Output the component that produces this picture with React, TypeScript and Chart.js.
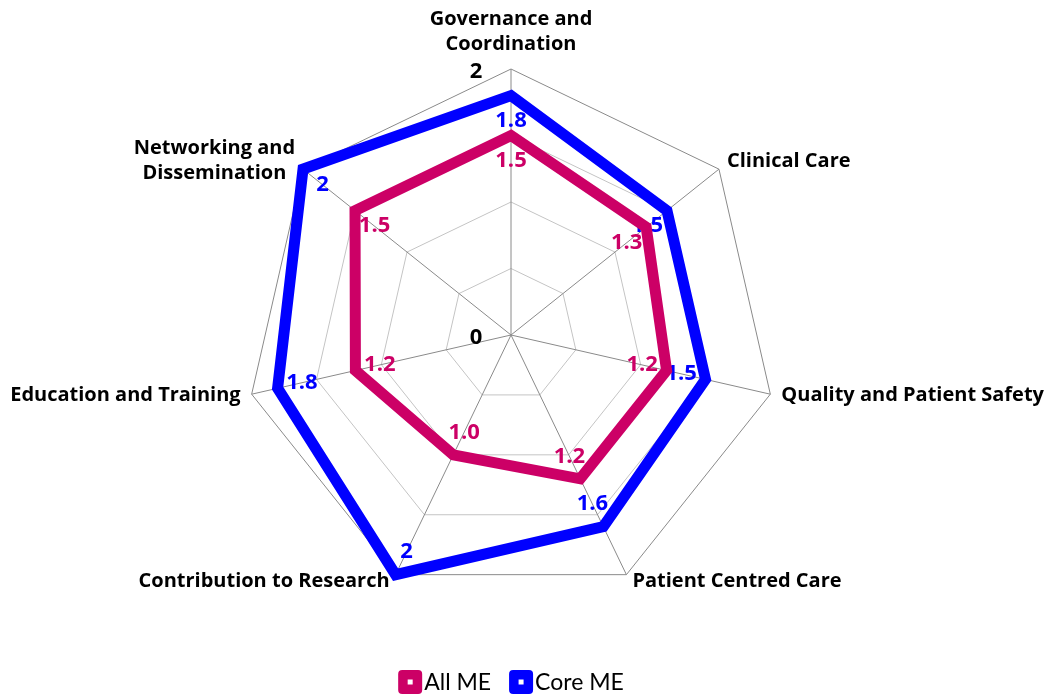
import React, { useEffect, useRef } from 'react';
import { Chart, registerables } from 'chart.js';

Chart.register(...registerables);

const categories: string[][] = [
  ['Governance and', 'Coordination'],
  ['Clinical Care'],
  ['Quality and Patient Safety'],
  ['Patient Centred Care'],
  ['Contribution to Research'],
  ['Education and Training'],
  ['Networking and', 'Dissemination'],
];
const allME = [1.5, 1.3, 1.2, 1.2, 1.0, 1.2, 1.5];
const coreME = [1.8, 1.5, 1.5, 1.6, 2, 1.8, 2];
const allMELabels = ['1.5', '1.3', '1.2', '1.2', '1.0', '1.2', '1.5'];
const coreMELabels = ['1.8', '1.5', '1.5', '1.6', '2', '1.8', '2'];
const tickLabels = [0, 2];
const seriesNames = ['All ME', 'Core ME'];
const seriesColors = ['#CC0066', '#0000FF'];

const FONT = '"Open Sans", Lato, sans-serif';
const LEGEND_FONT = 'Lato, "Open Sans", sans-serif';

const labelPlugin = {
  id: 'customLabels',
  beforeDatasetsDraw(chart: any) {
    const ctx = chart.ctx;
    const scale = chart.scales.r;
    ctx.save();
    // tick labels
    ctx.fillStyle = '#000';
    ctx.font = `bold 22px ${FONT}`;
    ctx.textAlign = 'center';
    ctx.textBaseline = 'middle';
    tickLabels.forEach((v) => {
      const d = scale.getDistanceFromCenterForValue(v);
      ctx.fillText(String(v), scale.xCenter - 35, scale.yCenter - d + 3);
    });
    // data labels
    const labelSets = [allMELabels, coreMELabels];
    chart.data.datasets.forEach((ds: any, di: number) => {
      ctx.fillStyle = seriesColors[di];
      ctx.font = `bold 22px ${FONT}`;
      ds.data.forEach((v: number, i: number) => {
        const d = scale.getDistanceFromCenterForValue(v);
        const p = scale.getPointPosition(i, d - 25);
        ctx.fillText(labelSets[di][i], p.x, p.y);
      });
    });
    ctx.restore();
  },
  afterDraw(chart: any) {
    const ctx = chart.ctx;
    const scale = chart.scales.r;
    const n = categories.length;
    const r = scale.drawingArea;
    ctx.save();
    ctx.fillStyle = '#000';
    ctx.font = `bold 20px ${FONT}`;
    ctx.textBaseline = 'middle';
    const lh = 25;
    categories.forEach((lines, i) => {
      const p = scale.getPointPosition(i, r);
      const a = (i * 2 * Math.PI) / n;
      const s = Math.sin(a);
      const c = Math.cos(a);
      let x = p.x;
      let yc: number;
      if (Math.abs(s) < 0.1) {
        ctx.textAlign = 'center';
        yc = p.y - 25 - ((lines.length - 1) * lh) / 2;
      } else {
        let off: number;
        if (c > 0.5) { yc = p.y - 8; off = 8; }
        else if (c > -0.5) { yc = p.y + 1; off = 11; }
        else { yc = p.y + 7; off = 6; }
        if (s > 0) { ctx.textAlign = 'left'; x = p.x + off; }
        else { ctx.textAlign = 'right'; x = p.x - off; }
        if (lines.length > 1 && s < 0) {
          ctx.textAlign = 'center';
          const w = Math.max(...lines.map((l) => ctx.measureText(l).width));
          x = p.x - off - w / 2;
        }
      }
      lines.forEach((l, li) => {
        ctx.fillText(l, x, yc + (li - (lines.length - 1) / 2) * lh);
      });
    });
    // legend
    ctx.font = `23px ${LEGEND_FONT}`;
    ctx.textAlign = 'left';
    const box = 24;
    const gapText = 2;
    const gapItems = 18;
    const widths = seriesNames.map((t) => box + gapText + ctx.measureText(t).width);
    const total = widths.reduce((a, b) => a + b, 0) + gapItems * (widths.length - 1);
    let lx = scale.xCenter - total / 2;
    const ly = 682;
    seriesNames.forEach((t, i) => {
      ctx.fillStyle = seriesColors[i];
      ctx.beginPath();
      (ctx as any).roundRect(lx, ly - box / 2, box, box, 4);
      ctx.fill();
      ctx.fillStyle = '#fff';
      ctx.fillRect(lx + box / 2 - 2.5, ly - 2.5, 5, 5);
      ctx.fillStyle = '#000';
      ctx.fillText(t, lx + box + gapText, ly + 1);
      lx += widths[i] + gapItems;
    });
    ctx.restore();
  },
};

export default function App() {
  const ref = useRef<HTMLCanvasElement>(null);
  useEffect(() => {
    if (!ref.current) return;
    const chart = new Chart(ref.current, {
      type: 'radar',
      data: {
        labels: categories.map((l) => l.join(' ')),
        datasets: [
          {
            label: seriesNames[0],
            data: allME,
            borderColor: seriesColors[0],
            backgroundColor: seriesColors[0],
            borderWidth: 11,
            borderJoinStyle: 'miter',
            pointRadius: 0,
            fill: false,
          },
          {
            label: seriesNames[1],
            data: coreME,
            borderColor: seriesColors[1],
            backgroundColor: seriesColors[1],
            borderWidth: 11,
            borderJoinStyle: 'miter',
            pointRadius: 0,
            fill: false,
          },
        ],
      },
      options: {
        responsive: false,
        animation: false,
        devicePixelRatio: 1,
        layout: { padding: { top: 69, bottom: 94, left: 245, right: 271 } },
        plugins: { legend: { display: false }, tooltip: { enabled: false } },
        scales: {
          r: {
            min: 0,
            max: 2,
            ticks: { stepSize: 0.5, display: false },
            grid: {
              color: (c: any) => (c.tick && c.tick.value === 2 ? '#8a8a8a' : '#c4c4c4'),
              lineWidth: 1,
            },
            angleLines: { color: '#8a8a8a', lineWidth: 1 },
            pointLabels: { display: false },
          },
        },
      },
      plugins: [labelPlugin],
    } as any);
    return () => chart.destroy();
  }, []);
  return (
    <div style={{ position: 'absolute', left: 0, top: 0, width: 1048, height: 695, background: '#fff' }}>
      <canvas ref={ref} width={1048} height={695} style={{ width: 1048, height: 695 }} />
    </div>
  );
}
